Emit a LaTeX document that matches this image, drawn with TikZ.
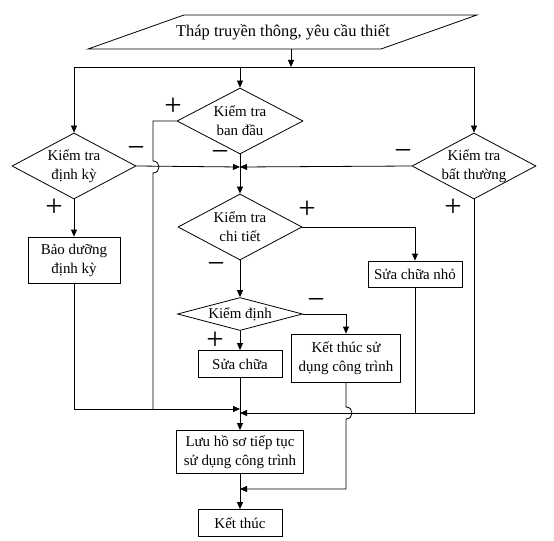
\documentclass[tikz,border=0pt]{standalone}
\usepackage{fontspec}
\setmainfont{Liberation Serif}
\usetikzlibrary{shapes.geometric,arrows.meta}
\begin{document}
\begin{tikzpicture}[x=1bp,y=-1bp, line width=0.8bp,
 every node/.style={font=\fontsize{15}{19}\selectfont, align=center},
 dia/.style={diamond, draw, inner sep=0pt},
 box/.style={rectangle, draw, inner sep=0pt},
 arr/.style={-{Triangle[length=7bp,width=6bp]}},
 sgn/.style={font=\fontsize{31}{31}\selectfont, inner sep=0pt}
]
\useasboundingbox (0,0) rectangle (554,541);
% top input
\draw (184,15) -- (477,15) -- (381,49) -- (88,49) -- cycle;
\node[font=\fontsize{16.5}{19}\selectfont] (top) at (283,32) {Tháp truyền thông, yêu cầu thiết};
\coordinate (tb) at (291,49);
\coordinate (th) at (291,67);
\coordinate (hl) at (74,67);
\coordinate (hm) at (240,67);
\coordinate (hr) at (474,67);
% decisions
\node[dia, minimum width=126bp, minimum height=66bp] (bd) at (240,121) {};
\node at (bd) {Kiểm tra\\ban đầu};
\node[dia, minimum width=124bp, minimum height=66bp] (dk) at (74,166) {};
\node at (dk) {Kiểm tra\\định kỳ};
\node[dia, minimum width=124bp, minimum height=66bp] (bt) at (474,166) {};
\node at (bt) {Kiểm tra\\bất thường};
\node[dia, minimum width=124bp, minimum height=66bp] (ct) at (240,227) {};
\node at (ct) {Kiểm tra\\chi tiết};
\node[dia, minimum width=125bp, minimum height=33bp] (kd) at (240,314) {};
\node at (kd) {Kiểm định};
% boxes
\node[box, minimum width=92bp, minimum height=46bp] (bdk) at (74,260) {Bảo dưỡng\\định kỳ};
\node[box, minimum width=94bp, minimum height=26bp] (sn) at (415,274) {Sửa chữa nhỏ};
\node[box, minimum width=109bp, minimum height=48bp] (ks) at (346,358) {Kết thúc sử\\dụng công trình};
\node[box, minimum width=84bp, minimum height=27bp] (sc) at (240,364) {Sửa chữa};
\node[box, minimum width=127bp, minimum height=43bp] (luu) at (240,452) {Lưu hồ sơ tiếp tục\\sử dụng công trình};
\node[box, minimum width=84bp, minimum height=27bp] (kt) at (240,523) {Kết thúc};
% junctions
\coordinate (j1) at (240,167);
\coordinate (j2l) at (240,409);
\coordinate (j2r) at (240,413);
\coordinate (j3) at (240,489);
\coordinate (hopA) at (153,161);
\coordinate (hopB) at (153,173);
\coordinate (lb) at (153,409);
\coordinate (hopC) at (346,407);
\coordinate (hopD) at (346,419);
% connectors
\draw[arr] (tb) -- (th);
\draw (hl) -- (hr);
\draw[arr] (hl) -- (dk.north);
\draw[arr] (hm) -- (bd.north);
\draw[arr] (hr) -- (bt.north);
\draw[arr] (dk.east) -- (j1);
\draw[arr] (bt.west) -- (j1);
\draw[arr] (bd.south) -- (ct.north);
\draw (bd.west) -| (hopA) .. controls +(8,0) and +(8,0) .. (hopB) -- (lb);
\draw[arr] (dk.south) -- (bdk.north);
\draw[arr] (ct.east) -| (sn.north);
\draw[arr] (ct.south) -- (kd.north);
\draw[arr] (kd.east) -| (ks.north);
\draw[arr] (kd.south) -- (sc.north);
\draw[arr] (sc.south) -- (luu.north);
\draw[arr] (bdk.south) |- (j2l);
\draw[arr] (bt.south) |- (j2r);
\draw (sn.south) -- (sn.south |- j2r);
\draw[arr] (ks.south) -- (hopC) .. controls +(8,0) and +(8,0) .. (hopD) |- (j3);
\draw[arr] (luu.south) -- (kt.north);
% signs
\node[sgn] at (173,107) {+};
\node[sgn] at (136,152) {−};
\node[sgn] at (220,156) {−};
\node[sgn] at (403,155) {−};
\node[sgn] at (54,208) {+};
\node[sgn] at (307,210) {+};
\node[sgn] at (453,208) {+};
\node[sgn] at (216,268) {−};
\node[sgn] at (316,304) {−};
\node[sgn] at (215,341) {+};
\end{tikzpicture}
\end{document}
